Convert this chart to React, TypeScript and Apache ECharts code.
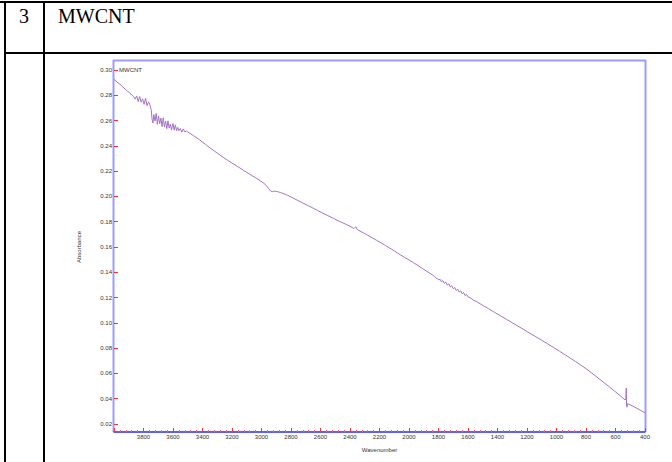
import React, { useEffect, useRef } from "react";
import * as echarts from "echarts";

const rowNumber = "3";
const sampleName = "MWCNT";
const seriesName = "MWCNT";
const xAxisTitle = "Wavenumber";
const yAxisTitle = "Absorbance";

const wavenumbers = [
  4000, 3980, 3960, 3940, 3925, 3910, 3895, 3880, 3868, 3856,
  3846, 3836, 3826, 3816, 3806, 3796, 3786, 3776, 3766, 3756,
  3748, 3742, 3736, 3730, 3722, 3714, 3706, 3698, 3690, 3682,
  3674, 3666, 3658, 3650, 3642, 3634, 3626, 3618, 3610, 3600,
  3592, 3584, 3576, 3568, 3560, 3550, 3540, 3530, 3520, 3510,
  3500, 3460, 3420, 3380, 3345, 3300, 3260, 3233, 3200, 3160,
  3120, 3080, 3040, 3010, 2984, 2965, 2950, 2938, 2925, 2912,
  2900, 2885, 2870, 2855, 2840, 2825, 2800, 2760, 2720, 2680,
  2650, 2622, 2590, 2550, 2510, 2470, 2430, 2400, 2385, 2373,
  2365, 2360, 2352, 2340, 2310, 2280, 2250, 2220, 2190, 2160,
  2130, 2100, 2080, 2056, 2030, 2000, 1970, 1940, 1910, 1880,
  1860, 1840, 1825, 1815, 1807, 1798, 1790, 1780, 1770, 1760,
  1750, 1740, 1730, 1720, 1710, 1700, 1690, 1680, 1670, 1660,
  1650, 1640, 1630, 1620, 1610, 1600, 1580, 1560, 1540, 1500,
  1460, 1420, 1380, 1340, 1300, 1260, 1220, 1180, 1140, 1100,
  1060, 1020, 980, 940, 900, 870, 840, 800, 760, 720,
  680, 640, 600, 568, 550, 542, 536, 530, 527, 525,
  522, 518, 510, 480, 440, 400,
];

const absorbance = [
  0.2926, 0.2905, 0.2888, 0.2865, 0.2850, 0.2834, 0.2822, 0.2802, 0.2792, 0.2770,
  0.2795, 0.2750, 0.2790, 0.2745, 0.2772, 0.2728, 0.2776, 0.2718, 0.2748, 0.2722,
  0.2688, 0.2612, 0.2580, 0.2648, 0.2596, 0.2656, 0.2570, 0.2636, 0.2574, 0.2620,
  0.2552, 0.2622, 0.2548, 0.2596, 0.2536, 0.2598, 0.2540, 0.2572, 0.2526, 0.2576,
  0.2524, 0.2566, 0.2519, 0.2546, 0.2520, 0.2538, 0.2508, 0.2534, 0.2510, 0.2518,
  0.2510, 0.2480, 0.2448, 0.2412, 0.2380, 0.2343, 0.2310, 0.2288, 0.2264, 0.2235,
  0.2205, 0.2176, 0.2147, 0.2125, 0.2104, 0.2084, 0.2060, 0.2043, 0.2038, 0.2042,
  0.2040, 0.2036, 0.2030, 0.2024, 0.2017, 0.2010, 0.1996, 0.1972, 0.1948, 0.1925,
  0.1907, 0.1890, 0.1871, 0.1848, 0.1825, 0.1802, 0.1781, 0.1764, 0.1754, 0.1746,
  0.1756, 0.1760, 0.1740, 0.1731, 0.1712, 0.1693, 0.1673, 0.1653, 0.1633, 0.1612,
  0.1591, 0.1569, 0.1554, 0.1536, 0.1518, 0.1498, 0.1476, 0.1454, 0.1431, 0.1408,
  0.1394, 0.1378, 0.1366, 0.1353, 0.1350, 0.1338, 0.1346, 0.1325, 0.1334, 0.1312,
  0.1322, 0.1298, 0.1308, 0.1284, 0.1294, 0.1270, 0.1280, 0.1256, 0.1266, 0.1243,
  0.1254, 0.1230, 0.1240, 0.1216, 0.1225, 0.1205, 0.1194, 0.1178, 0.1167, 0.1138,
  0.1112, 0.1083, 0.1056, 0.1028, 0.1001, 0.0973, 0.0946, 0.0917, 0.0890, 0.0862,
  0.0834, 0.0805, 0.0776, 0.0746, 0.0716, 0.0693, 0.0670, 0.0638, 0.0602, 0.0566,
  0.0529, 0.0492, 0.0454, 0.0424, 0.0405, 0.0398, 0.0390, 0.0398, 0.0484, 0.0338,
  0.0333, 0.0362, 0.0356, 0.0340, 0.0314, 0.0289,
];

const xMin = 400;
const xMax = 4000;
const xStep = 200;
const yMin = 0.02;
const yMax = 0.3;
const yStep = 0.02;

export default function App() {
  const ref = useRef<HTMLDivElement>(null);

  useEffect(() => {
    if (!ref.current) return;
    const chart = echarts.init(ref.current, undefined, { renderer: "svg" });
    const data = wavenumbers.map((w, i) => [w, absorbance[i]]);
    const frameColor = "#9c9cff";
    const font = "Liberation Sans, Arial, sans-serif";

    chart.setOption({
      animation: false,
      backgroundColor: "#ffffff",
      grid: { left: 114, right: 27, top: 70, bottom: 38, containLabel: false },
      legend: {
        data: [seriesName],
        left: 114,
        top: 66,
        icon: "none",
        itemWidth: 0,
        itemHeight: 8,
        padding: 0,
        textStyle: { fontSize: 6, color: "#333", fontFamily: font },
      },
      xAxis: {
        type: "value",
        min: xMin,
        max: xMax,
        interval: xStep,
        inverse: true,
        offset: 8,
        name: xAxisTitle,
        nameLocation: "middle",
        nameGap: 15,
        nameTextStyle: { fontSize: 6, color: "#333", fontFamily: font },
        axisLine: { show: true, lineStyle: { color: "#2a2aff", width: 1.5 } },
        axisTick: { show: true, inside: true, length: 4, lineStyle: { color: "#ff3030", width: 1 } },
        minorTick: { show: true, splitNumber: 5, length: 2, lineStyle: { color: "#ff6060", width: 1 } },
        axisLabel: {
          showMaxLabel: false,
          margin: 2,
          fontSize: 6,
          color: "#333",
          fontFamily: font,
          formatter: (v: number) => String(v),
        },
        splitLine: { show: false },
      },
      yAxis: {
        type: "value",
        min: yMin,
        max: yMax,
        interval: yStep,
        name: yAxisTitle,
        nameLocation: "middle",
        nameGap: 32,
        nameRotate: 90,
        nameTextStyle: { fontSize: 6, color: "#333", fontFamily: font },
        axisLine: { show: false },
        axisTick: { show: true, inside: true, length: 4, lineStyle: { color: "#ff3030", width: 1 } },
        axisLabel: {
          margin: 2,
          fontSize: 6,
          color: "#333",
          fontFamily: font,
          formatter: (v: number) => v.toFixed(2),
        },
        splitLine: { show: false },
      },
      series: [
        {
          name: seriesName,
          type: "line",
          data,
          showSymbol: false,
          symbol: "none",
          lineStyle: { color: "#a673c6", width: 1 },
          itemStyle: { color: "#a673c6" },
        },
      ],
      graphic: [
        { type: "rect", shape: { x: 0, y: 1, width: 672, height: 2 }, style: { fill: "#000" } },
        { type: "rect", shape: { x: 4, y: 1, width: 2, height: 461 }, style: { fill: "#000" } },
        { type: "rect", shape: { x: 43, y: 1, width: 2, height: 461 }, style: { fill: "#000" } },
        { type: "rect", shape: { x: 4, y: 52, width: 668, height: 2 }, style: { fill: "#000" } },
        {
          type: "text",
          x: 24,
          y: 6,
          style: { text: rowNumber, fontSize: 20, fontFamily: "Liberation Serif, Times New Roman, serif", fill: "#000", align: "center", verticalAlign: "top" },
        },
        {
          type: "text",
          x: 58,
          y: 6,
          style: { text: sampleName, fontSize: 20, fontFamily: "Liberation Serif, Times New Roman, serif", fill: "#000", align: "left", verticalAlign: "top" },
        },
        { type: "line", shape: { x1: 113, y1: 60.5, x2: 646, y2: 60.5 }, style: { stroke: frameColor, lineWidth: 2 } },
        { type: "line", shape: { x1: 113.5, y1: 60, x2: 113.5, y2: 432 }, style: { stroke: frameColor, lineWidth: 2 } },
        { type: "line", shape: { x1: 645.5, y1: 60, x2: 645.5, y2: 432 }, style: { stroke: frameColor, lineWidth: 2 } },
      ],
    });

    return () => chart.dispose();
  }, []);

  return (
    <div
      ref={ref}
      style={{ position: "fixed", left: 0, top: 0, width: 672, height: 462, background: "#fff" }}
    />
  );
}
